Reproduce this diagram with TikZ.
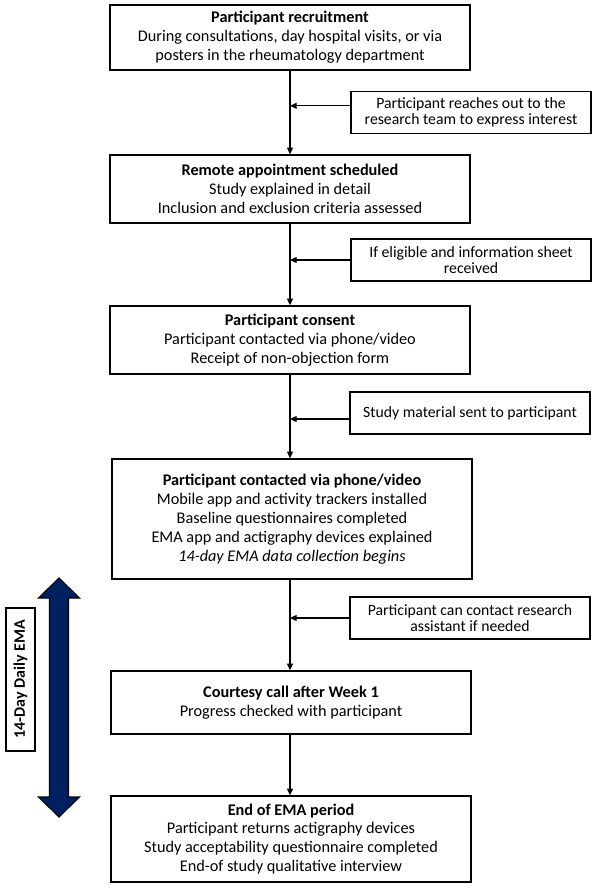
\documentclass[tikz,border=0pt]{standalone}
\usepackage{fontspec}
\setmainfont{Carlito}
\usetikzlibrary{arrows.meta}

\begin{document}
\begin{tikzpicture}[
    x=0.75pt, y=-0.75pt,
    box/.style={draw, line width=1.1pt, minimum width=270pt, align=center, inner sep=2pt, font=\fontsize{12.2}{14.2}\selectfont},
    side/.style={draw, line width=1.1pt, minimum width=180pt, minimum height=31.5pt, align=center, inner sep=2pt, font=\fontsize{11.8}{11.6}\selectfont},
    arr/.style={-{Triangle[length=5pt,width=4.5pt]}, line width=0.9pt}
]
    \useasboundingbox (0,0) rectangle (600,888);
    \node[box, minimum height=48.75pt] (b1) at (290,37.5) {\textbf{Participant recruitment}\\During consultations, day hospital visits, or via\\posters in the rheumatology department};
    \node[box, minimum height=51pt] (b2) at (290,189) {\textbf{Remote appointment scheduled}\\Study explained in detail\\Inclusion and exclusion criteria assessed};
    \node[box, minimum height=51pt] (b3) at (290,340) {\textbf{Participant consent}\\Participant contacted via phone/video\\Receipt of non-objection form};
    \node[box, minimum height=90pt] (b4) at (292,519) {\textbf{Participant contacted via phone/video}\\Mobile app and activity trackers installed\\Baseline questionnaires completed\\EMA app and actigraphy devices explained\\\textit{14-day EMA data collection begins}};
    \node[box, minimum height=47.25pt] (b5) at (291,702.5) {\textbf{Courtesy call after Week 1}\\Progress checked with participant};
    \node[box, minimum height=64.5pt] (b6) at (291,839) {\textbf{End of EMA period}\\Participant returns actigraphy devices\\Study acceptability questionnaire completed\\End-of study qualitative interview};

    \node[side] (s1) at (471,112.5) {Participant reaches out to the\\research team to express interest};
    \node[side] (s2) at (471,260) {If eligible and information sheet\\received};
    \node[side] (s3) at (470,413) {Study material sent to participant};
    \node[side] (s4) at (470,618) {Participant can contact research\\assistant if needed};

    \draw[arr] (b1.south) -- (b1.south |- b2.north);
    \draw[arr] (b2.south) -- (b2.south |- b3.north);
    \draw[arr] (b3.south) -- (b3.south |- b4.north);
    \draw[arr] (b3.south |- b4.south) -- (b3.south |- b5.north);
    \draw[arr] (b3.south |- b5.south) -- (b3.south |- b6.north);
    \draw[arr] ([yshift=5pt]s1.west) -- ([yshift=5pt]s1.west -| b1.south);
    \draw[arr] (s2.west) -- (s2.west -| b2.south);
    \draw[arr] ([yshift=-4.5pt]s3.west) -- ([yshift=-4.5pt]s3.west -| b3.south);
    \draw[arr] (s4.west) -- (s4.west -| b3.south);

    % EMA period
    \filldraw[fill={rgb,255:red,0;green,32;blue,96}, draw=black, line width=0.8pt]
        (59,578) -- (79.5,598) -- (68.5,598) -- (68.5,797) -- (79.5,797) -- (59,817)
        -- (38.5,797) -- (49.5,797) -- (49.5,598) -- (38.5,598) -- cycle;
    \node[draw, line width=1.1pt, rotate=90, minimum width=107.25pt, minimum height=21.75pt, font=\fontsize{12}{14}\selectfont\bfseries] (ema) at (20.5,679.5) {14-Day Daily EMA};
\end{tikzpicture}
\end{document}
